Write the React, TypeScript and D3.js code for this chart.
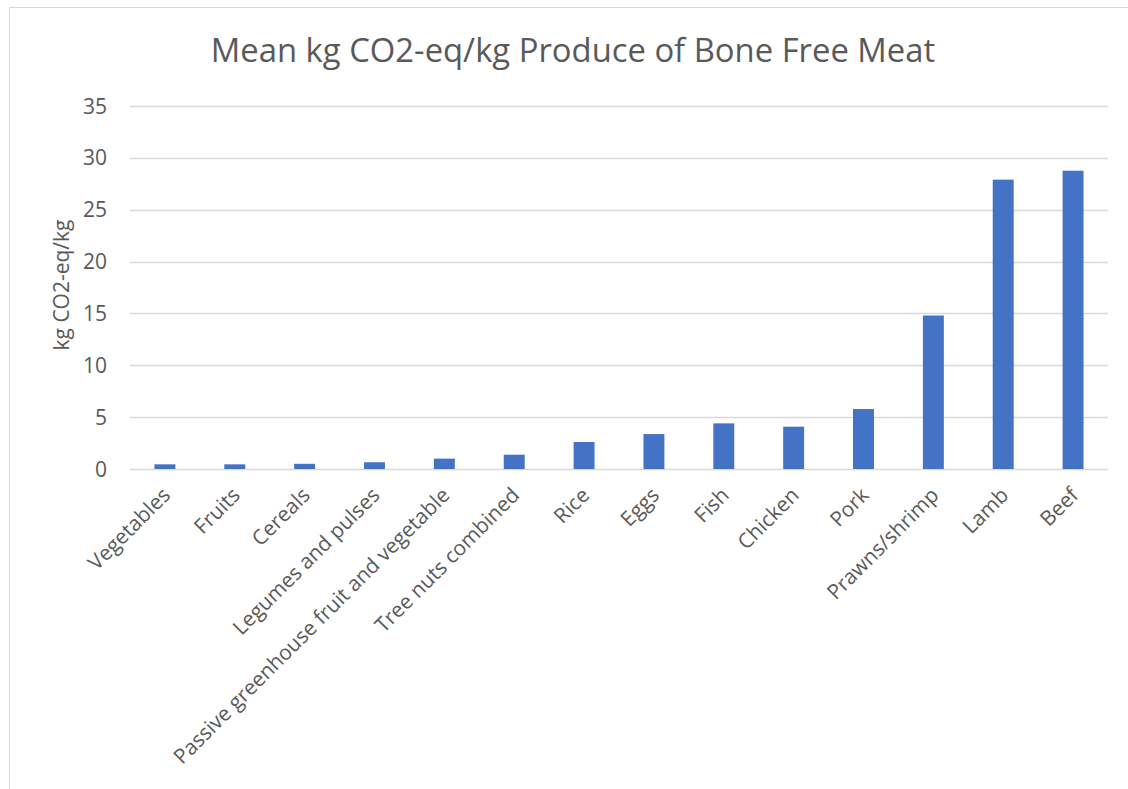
import React from "react";
import * as d3 from "d3";

const categories = [
  "Vegetables",
  "Fruits",
  "Cereals",
  "Legumes and pulses",
  "Passive greenhouse fruit and vegetable",
  "Tree nuts combined",
  "Rice",
  "Eggs",
  "Fish",
  "Chicken",
  "Pork",
  "Prawns/shrimp",
  "Lamb",
  "Beef",
];
const values = [0.45, 0.45, 0.5, 0.65, 1.0, 1.38, 2.6, 3.37, 4.4, 4.08, 5.78, 14.8, 27.9, 28.76];
const yTicks = [0, 5, 10, 15, 20, 25, 30, 35];
const title = "Mean kg CO2-eq/kg Produce of Bone Free Meat";
const yLabel = "kg CO2-eq/kg";

const W = 1128;
const H = 789;
const FONT = "'Open Sans', sans-serif";
const TEXT = "#595959";
const GRID = "#D9D9D9";
const BAR = "#4472C4";

export default function App() {
  const x = d3.scaleBand<string>().domain(categories).range([130, 1108]).paddingInner(0.7).paddingOuter(0.35);
  const y = d3.scaleLinear().domain([0, 35]).range([469, 106]);

  return (
    <svg
      width={W}
      height={H}
      style={{ position: "absolute", left: 0, top: 0, background: "#fff" }}
      fontFamily={FONT}
    >
      <rect x={0} y={0} width={W} height={H} fill="#fff" />
      <line x1={9.5} y1={7.5} x2={W} y2={7.5} stroke={GRID} strokeWidth={1} />
      <line x1={9.5} y1={7.5} x2={9.5} y2={H} stroke={GRID} strokeWidth={1} />
      <text x={573} y={62} textAnchor="middle" fontSize={32.8} fill={TEXT}>
        {title}
      </text>
      {yTicks.map((t) => (
        <g key={t}>
          <line x1={130} x2={1108} y1={Math.round(y(t)) + 0.5} y2={Math.round(y(t)) + 0.5} stroke={GRID} strokeWidth={1.3} />
          <text x={107} y={y(t)} dy="0.36em" textAnchor="end" fontSize={21} fill={TEXT}>
            {t}
          </text>
        </g>
      ))}
      <text
        transform={`translate(61,285) rotate(-90)`}
        textAnchor="middle"
        dy="0.36em"
        fontSize={21}
        fill={TEXT}
      >
        {yLabel}
      </text>
      {categories.map((c, i) => (
        <rect
          key={c}
          x={x(c)}
          y={y(values[i])}
          width={x.bandwidth()}
          height={y(0) - y(values[i])}
          fill={BAR}
        />
      ))}
      {categories.map((c) => {
        const cx = (x(c) as number) + x.bandwidth() / 2;
        return (
          <text
            key={c}
            transform={`translate(${cx - 4},${486}) rotate(-45)`}
            textAnchor="end"
            dy="0.72em"
            fontSize={20.8}
            fill={TEXT}
          >
            {c}
          </text>
        );
      })}
    </svg>
  );
}
